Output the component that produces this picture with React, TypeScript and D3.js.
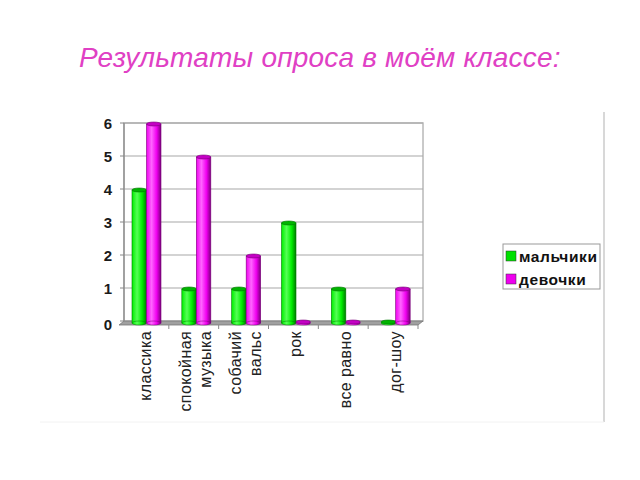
// @ts-nocheck
import * as d3 from 'd3';

const categories = ['классика', 'спокойная музыка', 'собачий вальс', 'рок', 'все равно', 'дог-шоу'];
const categoryLines = [['классика'], ['спокойная', 'музыка'], ['собачий', 'вальс'], ['рок'], ['все равно'], ['дог-шоу']];
const boys = [4, 1, 1, 3, 1, 0];
const girls = [6, 5, 2, 0, 0, 1];
const yTicks = [0, 1, 2, 3, 4, 5, 6];
const seriesNames = ['мальчики', 'девочки'];

const W = 640;
const H = 480;
const wall = { left: 124, right: 423, top: 123, bottom: 321 };
const depth = 5; // 3d offset of the floor

const x = d3.scaleBand().domain(categories).range([wall.left - depth, wall.right - depth]);
const y = d3.scaleLinear().domain([0, 6]).range([wall.bottom, wall.top]);

const font = 'Arial, "Liberation Sans", sans-serif';

const series = [
  { name: seriesNames[0], values: boys, id: 'g', light: '#55ff55', mid: '#00ee00', dark: '#007a00', cap: '#00b400', key: '#00e000' },
  { name: seriesNames[1], values: girls, id: 'm', light: '#ff66ff', mid: '#f000f0', dark: '#7a007a', cap: '#c400c4', key: '#ee00ee' },
];

const barW = 14.5;
const barOffset = 13;

export default function App() {
  return (
    <svg width={W} height={H} style={{ position: 'absolute', left: 0, top: 0, background: '#fff' }}>
      <defs>
        {series.map((s) => (
          <linearGradient key={s.id} id={'cyl-' + s.id} x1="0" x2="1" y1="0" y2="0">
            <stop offset="0%" stopColor={s.mid} />
            <stop offset="35%" stopColor={s.light} />
            <stop offset="70%" stopColor={s.mid} />
            <stop offset="100%" stopColor={s.dark} />
          </linearGradient>
        ))}
      </defs>

      {/* title */}
      <text x={79} y={67} fontFamily={font} fontStyle="italic" fontSize={28} letterSpacing={0.2} fill="#e040c4">
        Результаты опроса в моём классе:
      </text>

      {/* back wall */}
      <rect x={wall.left} y={wall.top} width={wall.right - wall.left} height={wall.bottom - wall.top}
        fill="#fff" stroke="#b8b8b8" strokeWidth={1.5} />
      {yTicks.slice(1).map((t) => (
        <line key={t} x1={wall.left} x2={wall.right} y1={y(t)} y2={y(t)} stroke="#a8a8a8" strokeWidth={1.2} />
      ))}

      {/* floor */}
      <polygon
        points={`${wall.left},${wall.bottom} ${wall.right},${wall.bottom} ${wall.right - depth},${wall.bottom + 4} ${wall.left - depth},${wall.bottom + 4}`}
        fill="#a0a0a0" stroke="#777" strokeWidth={0.8} />

      {/* y axis */}
      <line x1={wall.left} x2={wall.left} y1={wall.top} y2={wall.bottom} stroke="#888" strokeWidth={1.2} />
      {yTicks.map((t) => (
        <g key={t}>
          <line x1={wall.left - 4} x2={wall.left} y1={y(t)} y2={y(t)} stroke="#888" />
          <text x={112} y={y(t) + (t === 0 ? 3 : 0)} textAnchor="end" dominantBaseline="central"
            fontFamily={font} fontWeight="bold" fontSize={15} fill="#1a1a1a">{t}</text>
        </g>
      ))}

      {/* category separators on the floor front */}
      {categories.map((c) => (
        <line key={c} x1={x(c) + x.bandwidth()} x2={x(c) + x.bandwidth()} y1={wall.bottom + 4} y2={wall.bottom + 8}
          stroke="#888" />
      ))}

      {/* cylinders */}
      {categories.map((c, i) => (
        <g key={c}>
          {series.map((s, k) => {
            const v = s.values[i];
            const bx = x(c) + barOffset + k * barW;
            const base = wall.bottom + 2;
            const top = y(v) + 1;
            const rx = barW / 2;
            const ry = 2;
            return (
              <g key={s.id}>
                {v > 0 && (
                  <rect x={bx} y={top} width={barW} height={base - top} fill={`url(#cyl-${s.id})`}
                    stroke={s.dark} strokeWidth={0.6} />
                )}
                <ellipse cx={bx + rx} cy={base} rx={rx} ry={ry} fill={`url(#cyl-${s.id})`} stroke={s.dark} strokeWidth={0.5} />
                <ellipse cx={bx + rx} cy={top} rx={rx} ry={ry} fill={s.cap} stroke={s.dark} strokeWidth={0.6} />
              </g>
            );
          })}
        </g>
      ))}

      {/* x labels */}
      {categories.map((c, i) => {
        const lines = categoryLines[i];
        const cx = x(c) + x.bandwidth() / 2 + 2;
        return (
          <g key={c}>
            {lines.map((ln, j) => {
              const lx = cx + (j - (lines.length - 1) / 2) * 20;
              return (
                <text key={ln} transform={`translate(${lx},331) rotate(-90)`} textAnchor="end"
                  dominantBaseline="central" fontFamily={font} fontSize={16} letterSpacing={0.4} fill="#222">{ln}</text>
              );
            })}
          </g>
        );
      })}

      {/* legend */}
      <rect x={503} y={244} width={97} height={45} fill="#fff" stroke="#999" />
      {series.map((s, k) => (
        <g key={s.id}>
          <rect x={506} y={251 + k * 23} width={10} height={10} fill={s.key} stroke="#333" strokeWidth={0.5} />
          <text x={519} y={256 + k * 23} dominantBaseline="central" fontFamily={font} fontWeight="bold" fontSize={15.5}
            letterSpacing={0.6} fill="#111">
            {s.name}
          </text>
        </g>
      ))}

      {/* slide frame lines */}
      <line x1={604} x2={604} y1={112} y2={422} stroke="#d8d8d8" strokeWidth={2} />
      <line x1={40} x2={604} y1={422} y2={422} stroke="#f2f2f2" strokeWidth={1} />
    </svg>
  );
}
